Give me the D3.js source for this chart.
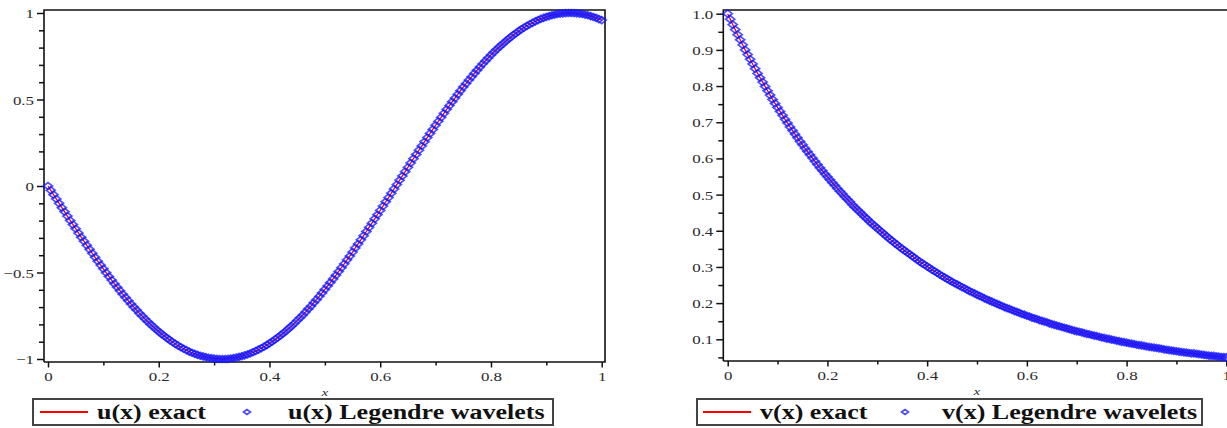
<!DOCTYPE html>
<html>
<head>
<meta charset="utf-8">
<script src="https://cdn.jsdelivr.net/npm/d3@7"></script>
<style>
  body { margin: 0; background: #fff; }
  svg { display: block; font-family: "Liberation Serif", "DejaVu Serif", serif; }
</style>
</head>
<body>
<svg width="1227" height="428"></svg>
<script>
// sample points (x)
const xs = [
  0,0.005,0.01,0.015,0.02,0.025,0.03,0.035,0.04,0.045,0.05,0.055,0.06,0.065,0.07,0.075,0.08,0.085,0.09,0.095,
  0.1,0.105,0.11,0.115,0.12,0.125,0.13,0.135,0.14,0.145,0.15,0.155,0.16,0.165,0.17,0.175,0.18,0.185,0.19,0.195,
  0.2,0.205,0.21,0.215,0.22,0.225,0.23,0.235,0.24,0.245,0.25,0.255,0.26,0.265,0.27,0.275,0.28,0.285,0.29,0.295,
  0.3,0.305,0.31,0.315,0.32,0.325,0.33,0.335,0.34,0.345,0.35,0.355,0.36,0.365,0.37,0.375,0.38,0.385,0.39,0.395,
  0.4,0.405,0.41,0.415,0.42,0.425,0.43,0.435,0.44,0.445,0.45,0.455,0.46,0.465,0.47,0.475,0.48,0.485,0.49,0.495,
  0.5,0.505,0.51,0.515,0.52,0.525,0.53,0.535,0.54,0.545,0.55,0.555,0.56,0.565,0.57,0.575,0.58,0.585,0.59,0.595,
  0.6,0.605,0.61,0.615,0.62,0.625,0.63,0.635,0.64,0.645,0.65,0.655,0.66,0.665,0.67,0.675,0.68,0.685,0.69,0.695,
  0.7,0.705,0.71,0.715,0.72,0.725,0.73,0.735,0.74,0.745,0.75,0.755,0.76,0.765,0.77,0.775,0.78,0.785,0.79,0.795,
  0.8,0.805,0.81,0.815,0.82,0.825,0.83,0.835,0.84,0.845,0.85,0.855,0.86,0.865,0.87,0.875,0.88,0.885,0.89,0.895,
  0.9,0.905,0.91,0.915,0.92,0.925,0.93,0.935,0.94,0.945,0.95,0.955,0.96,0.965,0.97,0.975,0.98,0.985,0.99,0.995,
  1
];

// u(x): exact and wavelet solution coincide at plot resolution
const uValues = [
  0,-0.025,-0.05,-0.075,-0.1,-0.125,-0.149,-0.174,-0.199,-0.223,-0.247,-0.272,-0.296,-0.319,-0.343,-0.366,-0.389,-0.412,-0.435,-0.457,
  -0.479,-0.501,-0.523,-0.544,-0.565,-0.585,-0.605,-0.625,-0.644,-0.663,-0.682,-0.7,-0.717,-0.735,-0.751,-0.768,-0.783,-0.799,-0.813,-0.828,
  -0.841,-0.855,-0.867,-0.879,-0.891,-0.902,-0.913,-0.923,-0.932,-0.941,-0.949,-0.957,-0.964,-0.97,-0.976,-0.981,-0.985,-0.989,-0.993,-0.995,
  -0.997,-0.999,-1,-1,-1,-0.999,-0.997,-0.994,-0.992,-0.988,-0.984,-0.979,-0.974,-0.968,-0.961,-0.954,-0.946,-0.938,-0.929,-0.92,
  -0.909,-0.899,-0.887,-0.876,-0.863,-0.851,-0.837,-0.823,-0.809,-0.794,-0.778,-0.762,-0.746,-0.729,-0.711,-0.694,-0.675,-0.657,-0.638,-0.618,
  -0.598,-0.578,-0.558,-0.537,-0.516,-0.494,-0.472,-0.45,-0.427,-0.405,-0.382,-0.358,-0.335,-0.311,-0.287,-0.263,-0.239,-0.215,-0.19,-0.166,
  -0.141,-0.116,-0.091,-0.067,-0.042,-0.017,0.008,0.033,0.058,0.083,0.108,0.133,0.158,0.182,0.207,0.231,0.256,0.28,0.304,0.327,
  0.351,0.374,0.397,0.42,0.443,0.465,0.487,0.508,0.53,0.551,0.572,0.592,0.612,0.631,0.651,0.669,0.688,0.706,0.723,0.74,
  0.757,0.773,0.789,0.804,0.818,0.832,0.846,0.859,0.872,0.883,0.895,0.906,0.916,0.926,0.935,0.943,0.952,0.959,0.966,0.972,
  0.978,0.982,0.987,0.99,0.994,0.996,0.998,0.999,1,1,0.999,0.998,0.996,0.994,0.991,0.987,0.982,0.977,0.972,0.965,
  0.959
];

// v(x)
const vValues = [
  1,0.985,0.97,0.956,0.942,0.928,0.914,0.9,0.887,0.874,0.861,0.848,0.835,0.823,0.811,0.799,0.787,0.775,0.763,0.752,
  0.741,0.73,0.719,0.708,0.698,0.687,0.677,0.667,0.657,0.647,0.638,0.628,0.619,0.61,0.601,0.592,0.583,0.574,0.566,0.557,
  0.549,0.541,0.533,0.525,0.517,0.509,0.502,0.494,0.487,0.48,0.472,0.465,0.458,0.452,0.445,0.438,0.432,0.425,0.419,0.413,
  0.407,0.401,0.395,0.389,0.383,0.377,0.372,0.366,0.361,0.355,0.35,0.345,0.34,0.335,0.33,0.325,0.32,0.315,0.31,0.306,
  0.301,0.297,0.292,0.288,0.284,0.279,0.275,0.271,0.267,0.263,0.259,0.255,0.252,0.248,0.244,0.241,0.237,0.233,0.23,0.227,
  0.223,0.22,0.217,0.213,0.21,0.207,0.204,0.201,0.198,0.195,0.192,0.189,0.186,0.184,0.181,0.178,0.176,0.173,0.17,0.168,
  0.165,0.163,0.16,0.158,0.156,0.153,0.151,0.149,0.147,0.144,0.142,0.14,0.138,0.136,0.134,0.132,0.13,0.128,0.126,0.124,
  0.122,0.121,0.119,0.117,0.115,0.114,0.112,0.11,0.109,0.107,0.105,0.104,0.102,0.101,0.099,0.098,0.096,0.095,0.093,0.092,
  0.091,0.089,0.088,0.087,0.085,0.084,0.083,0.082,0.08,0.079,0.078,0.077,0.076,0.075,0.074,0.072,0.071,0.07,0.069,0.068,
  0.067,0.066,0.065,0.064,0.063,0.062,0.061,0.061,0.06,0.059,0.058,0.057,0.056,0.055,0.054,0.054,0.053,0.052,0.051,0.051,
  0.05
];

const xMajor = [0, 0.2, 0.4, 0.6, 0.8, 1];
const xMinor = [0.1, 0.3, 0.5, 0.7, 0.9];
const uMajor = [-1, -0.5, 0, 0.5, 1];
const uMinor = [-0.9, -0.8, -0.7, -0.6, -0.4, -0.3, -0.2, -0.1, 0.1, 0.2, 0.3, 0.4, 0.6, 0.7, 0.8, 0.9];
const vMajor = [0.1, 0.2, 0.3, 0.4, 0.5, 0.6, 0.7, 0.8, 0.9, 1.0];
const vMinor = [0.05, 0.15, 0.25, 0.35, 0.45, 0.55, 0.65, 0.75, 0.85, 0.95];
const uLabels = ['u(x) exact', 'u(x) Legendre wavelets'];
const vLabels = ['v(x) exact', 'v(x) Legendre wavelets'];

// the source picture is stretched sideways; text is widened to match
const SX = 1.3;
const RED = '#ff0000';
const BLUE = '#1414ff';
const INK = '#2b2b2b';

const svg = d3.select('svg');

const panels = [
  {
    values: uValues, yDomain: [-1, 1], yMajor: uMajor, yMinor: uMinor,
    yFormat: d => d === 0 ? '0' : d3.format('.1~f')(d).replace('-', '\u2212'),
    frame: { left: 44, right: 605, top: 10, bottom: 362 },
    xRange: [48, 601.7], yRange: [359, 13],
    labels: uLabels,
    legend: { left: 33, right: 553, top: 399, bottom: 425, line: [40, 88], text1: 97, mark: 247, text2: 288 }
  },
  {
    values: vValues, yDomain: [0.1, 1.0], yMajor: vMajor, yMinor: vMinor,
    yFormat: d3.format('.1f'),
    frame: { left: 723.3, right: 1240, top: 10, bottom: 361 },
    xRange: [727.7, 1226.3], yRange: [339.3, 13.7],
    labels: vLabels,
    legend: { left: 697, right: 1202, top: 399, bottom: 425, line: [703, 751], text1: 760, mark: 905, text2: 942 }
  }
];

function diamond(cx, cy, w = 4.5, h = 3.5) {
  return `M${cx - w},${cy}L${cx},${cy - h}L${cx + w},${cy}L${cx},${cy + h}Z`;
}

function styleAxis(a) {
  a.select('.domain').remove();
  a.attr('font-family', null).attr('font-size', null);
  a.selectAll('line').attr('stroke', '#111').attr('stroke-width', 1.5);
}

panels.forEach(p => {
  const f = p.frame;
  const x = d3.scaleLinear().domain([0, 1]).range(p.xRange);
  const y = d3.scaleLinear().domain(p.yDomain).range(p.yRange);
  const g = svg.append('g');
  const pts = xs.map((xv, i) => [xv, p.values[i]]);

  // y axis, ticks outside the box
  g.append('g')
    .attr('transform', `translate(${f.left},0)`)
    .call(d3.axisLeft(y).tickValues(p.yMinor).tickSize(5).tickFormat(''))
    .call(styleAxis);
  g.append('g')
    .attr('transform', `translate(${f.left},0)`)
    .call(d3.axisLeft(y).tickValues(p.yMajor).tickSize(7).tickFormat(p.yFormat))
    .call(styleAxis)
    .call(a => a.selectAll('text')
      .attr('x', null).attr('dy', null)
      .attr('fill', INK).attr('font-size', 13).attr('text-anchor', 'end')
      .attr('transform', `translate(-10,4.5) scale(${SX},1)`));

  // x axis
  g.append('g')
    .attr('transform', `translate(0,${f.bottom})`)
    .call(d3.axisBottom(x).tickValues(xMinor).tickSize(3.5).tickFormat(''))
    .call(styleAxis);
  g.append('g')
    .attr('transform', `translate(0,${f.bottom})`)
    .call(d3.axisBottom(x).tickValues(xMajor).tickSize(5.5).tickFormat(d3.format('~g')))
    .call(styleAxis)
    .call(a => a.selectAll('text')
      .attr('y', null).attr('dy', null)
      .attr('fill', INK).attr('font-size', 13).attr('text-anchor', 'middle')
      .attr('transform', `translate(0,19) scale(${SX},1)`));

  // axis title
  g.append('text')
    .attr('transform', `translate(${(p.xRange[0] + p.xRange[1]) / 2},${f.bottom + 34}) scale(${SX},1)`)
    .attr('text-anchor', 'middle')
    .attr('font-style', 'italic')
    .attr('font-size', 11)
    .attr('fill', INK)
    .text('x');

  // box
  g.append('path')
    .attr('d', `M${f.left},${f.bottom}V${f.top}H${f.right}V${f.bottom}H${f.left}`)
    .attr('fill', 'none')
    .attr('stroke', '#111')
    .attr('stroke-width', 1.6);

  // exact solution line
  g.append('path')
    .datum(pts)
    .attr('fill', 'none')
    .attr('stroke', RED)
    .attr('stroke-width', 1.3)
    .attr('d', d3.line().x(d => x(d[0])).y(d => y(d[1])));

  // wavelet solution points
  g.append('g')
    .selectAll('path')
    .data(pts)
    .join('path')
      .attr('d', d => diamond(x(d[0]), y(d[1])))
      .attr('fill', 'none')
      .attr('stroke', BLUE)
      .attr('stroke-opacity', 0.75)
      .attr('stroke-width', 1.7);

  // legend
  const L = p.legend;
  const ly = (L.top + L.bottom) / 2;
  const lg = g.append('g');
  lg.append('rect')
    .attr('x', L.left).attr('y', L.top)
    .attr('width', L.right - L.left).attr('height', L.bottom - L.top)
    .attr('fill', '#fff')
    .attr('stroke', '#444')
    .attr('stroke-width', 2);
  lg.append('line')
    .attr('x1', L.line[0]).attr('x2', L.line[1])
    .attr('y1', ly).attr('y2', ly)
    .attr('stroke', RED).attr('stroke-width', 2);
  lg.append('path')
    .attr('d', diamond(L.mark, ly, 3.5, 2.5))
    .attr('fill', 'none')
    .attr('stroke', '#4a4aff')
    .attr('stroke-width', 1.6);
  [[L.text1, p.labels[0]], [L.text2, p.labels[1]]].forEach(([tx, label]) => {
    lg.append('text')
      .attr('transform', `translate(${tx},${ly + 6.5}) scale(${SX},1)`)
      .attr('font-size', 20)
      .attr('font-weight', 'bold')
      .attr('fill', '#111')
      .text(label);
  });
});
</script>
</body>
</html>
